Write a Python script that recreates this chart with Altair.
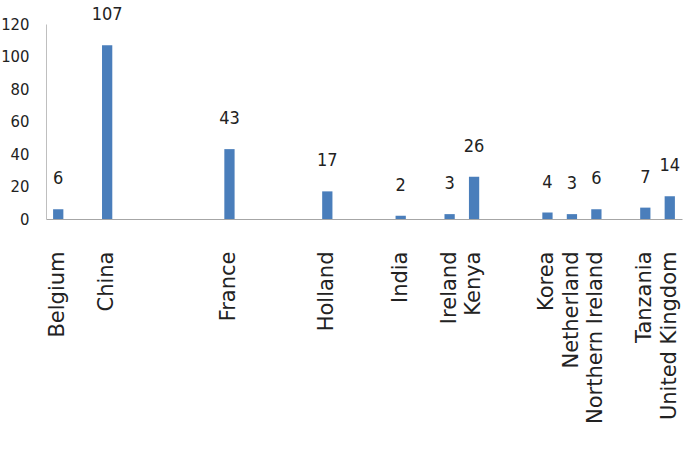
import altair as alt
import pandas as pd

# Category slots along the x axis (Excel-style gaps are blank slots)
slots = ["Belgium", "_g1", "China", "_g2", "_g3", "_g4", "_g5", "France",
         "_g6", "_g7", "_g8", "Holland", "_g9", "_g10", "India", "_g11",
         "Ireland", "Kenya", "_g12", "_g13", "Korea", "Netherland",
         "Northern Ireland", "_g14", "Tanzania", "United Kingdom"]
countries = ["Belgium", "China", "France", "Holland", "India", "Ireland",
             "Kenya", "Korea", "Netherland", "Northern Ireland", "Tanzania",
             "United Kingdom"]
values = [6, 107, 43, 17, 2, 3, 26, 4, 3, 6, 7, 14]
y_ticks = [0, 20, 40, 60, 80, 100, 120]

df = pd.DataFrame({"country": countries, "value": values})

narrow = "DejaVu Sans Condensed, sans-serif"

x = alt.X(
    "country:N",
    sort=slots,
    scale=alt.Scale(domain=slots, paddingInner=0.58, paddingOuter=0.29),
    axis=alt.Axis(
        title=None,
        labelAngle=-90,
        labelExpr="indexof(datum.label, '_g') == 0 ? '' : datum.label",
        ticks=False,
        domainColor="#a6a6a6",
        labelFont="DejaVu Sans",
        labelFontSize=21,
        labelColor="#222222",
        labelPadding=32,
        labelLimit=400,
    ),
)
y = alt.Y(
    "value:Q",
    scale=alt.Scale(domain=[0, 120], nice=False),
    axis=alt.Axis(
        title=None,
        values=y_ticks,
        grid=False,
        ticks=False,
        domainColor="#bfbfbf",
        labelFont=narrow,
        labelFontSize=16.5,
        labelColor="#222222",
        labelPadding=17,
    ),
)

base = alt.Chart(df).encode(x=x, y=y)
bars = base.mark_bar(color="#4a7ebb")
labels = base.mark_text(
    dy=-21, baseline="bottom", font=narrow, fontSize=18, color="#222222"
).encode(text="value:Q")

chart = (
    (bars + labels)
    .properties(
        width=636,
        height=195,
        padding={"left": 46, "top": 24, "right": 3, "bottom": 253},
        autosize="none",
        background="white",
    )
    .configure_view(stroke=None)
)

chart.save("out.html", embed_options={"renderer": "svg", "actions": False})
